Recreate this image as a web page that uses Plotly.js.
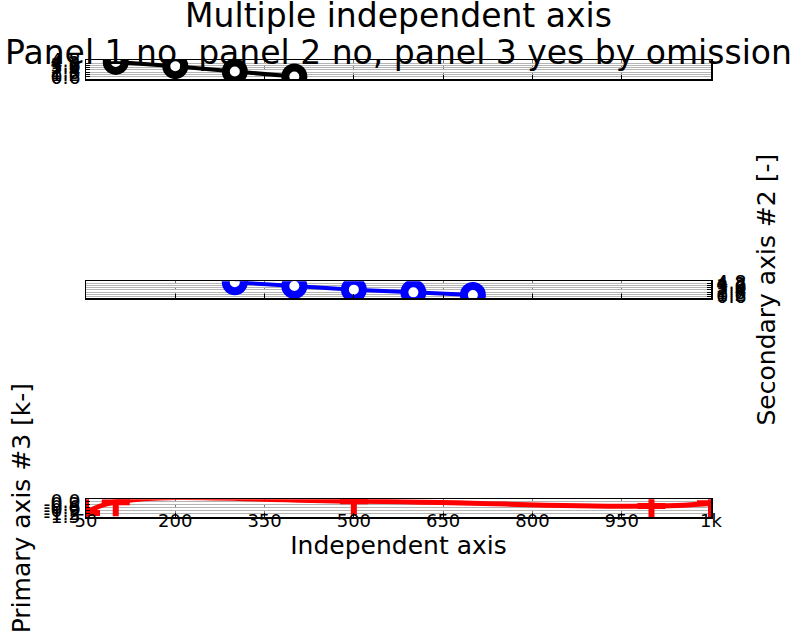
<!DOCTYPE html>
<html>
<head>
<meta charset="utf-8">
<script src="https://cdn.plot.ly/plotly-3.0.1.min.js"></script>
<style>html,body{margin:0;padding:0;background:#fff;}#chart{width:797px;height:634px;}</style>
</head>
<body>
<div id="chart"></div>
<script>
// Panel 1 (black)
var x1 = [100, 200, 300, 400];
var y1 = [4.5, 3.4, 2.0, 0.7];
// Panel 2 (blue)
var x2 = [300, 400, 500, 600, 700];
var y2 = [4.7, 3.6, 2.5, 1.7, 0.9];
// Panel 3 (red)
var x3 = [50, 100, 500, 1000, 1100];
var y3 = [-1.2, -0.1, 0.0, -0.5, -0.2];

var xTickVals = [50, 200, 350, 500, 650, 800, 950, 1100];
var xTickText = ['50', '200', '350', '500', '650', '800', '950', '1k'];
var yTicks1 = [0.6, 1.2, 1.8, 2.4, 3.0, 3.6, 4.2, 4.8];
var yTicks1Text = ['0.6', '1.2', '1.8', '2.4', '3.0', '3.6', '4.2', '4.8'];
var yTicks2 = [0.6, 1.2, 1.8, 2.4, 3.0, 3.6, 4.2, 4.8];
var yTicks2Text = ['0.6', '1.2', '1.8', '2.4', '3.0', '3.6', '4.2', '4.8'];
var yTicks3 = [-1.5, -1.2, -0.9, -0.6, -0.3, 0.0];
var yTicks3Text = ['-1.5', '-1.2', '-0.9', '-0.6', '-0.3', '0.0'];

var font = 'DejaVu Sans, sans-serif';

var traces = [
  {x: x1, y: y1, xaxis: 'x', yaxis: 'y', mode: 'lines+markers',
   line: {color: '#000', width: 4},
   marker: {symbol: 'circle', size: 18, color: '#fff', line: {color: '#000', width: 8}}},
  {x: x2, y: y2, xaxis: 'x2', yaxis: 'y2', mode: 'lines+markers',
   line: {color: '#0000ff', width: 4},
   marker: {symbol: 'circle', size: 18, color: '#fff', line: {color: '#0000ff', width: 8}}},
  {x: x3, y: y3, xaxis: 'x3', yaxis: 'y3', mode: 'lines+markers',
   line: {color: '#ff0000', width: 5, shape: 'spline', smoothing: 1.3},
   marker: {symbol: 'cross-thin', size: 20, color: '#ff0000', line: {color: '#ff0000', width: 6}}}
];

function xax(showLabels, anchor) {
  return {
    anchor: anchor, domain: [0, 1], range: [50, 1100],
    tickvals: xTickVals, ticktext: xTickText, showticklabels: showLabels,
    showline: true, mirror: true, linecolor: '#000', linewidth: 1.5,
    ticks: 'inside', ticklen: 4, tickcolor: '#000',
    showgrid: true, gridcolor: '#777', griddash: 'dot', gridwidth: 1,
    zeroline: false, ticklabelstandoff: -13,
    tickfont: {family: font, size: 18, color: '#000'}
  };
}
function yax(domain, range, tv, tt, side, anchor) {
  return {
    anchor: anchor, domain: domain, range: range, side: side,
    tickvals: tv, ticktext: tt,
    showline: true, mirror: true, linecolor: '#000', linewidth: 1.5,
    ticks: 'inside', ticklen: 4, tickcolor: '#000',
    showgrid: true, gridcolor: '#b4b4b4', gridwidth: 1,
    zeroline: false,
    tickfont: {family: font, size: 19, color: '#000'}
  };
}

var layout = {
  width: 797, height: 634,
  paper_bgcolor: '#fff', plot_bgcolor: '#fff',
  showlegend: false,
  margin: {l: 86, r: 86, t: 60, b: 117},
  font: {family: font, color: '#000'},
  title: {text: '<span style="font-size:33px">Multiple independent axis</span><br><span style="font-size:33px">Panel 1 no, panel 2 no, panel 3 yes by omission</span>',
          font: {family: font, size: 28.5, color: '#000'},
          x: 0.5, xanchor: 'center', y: 0.957, yanchor: 'top', yref: 'container'},
  xaxis: xax(false, 'y'),
  yaxis: yax([0.958, 1], [0, 5], yTicks1, yTicks1Text, 'left', 'x'),
  xaxis2: xax(false, 'y2'),
  yaxis2: Object.assign(yax([0.479, 0.516], [0, 5], yTicks2, yTicks2Text, 'right', 'x2'),
    {title: {text: 'Secondary axis #2 [-]', font: {family: font, size: 25, color: '#000'}, standoff: 12}}),
  xaxis3: Object.assign(xax(true, 'y3'),
    {title: {text: 'Independent axis', font: {family: font, size: 25, color: '#000'}, standoff: 4}}),
  yaxis3: Object.assign(yax([0, 0.039], [-1.6, 0.2], yTicks3, yTicks3Text, 'left', 'x3'),
    {title: {text: 'Primary axis #3 [k-]', font: {family: font, size: 25, color: '#000'}, standoff: 6}})
};

Plotly.newPlot('chart', traces, layout, {displayModeBar: false, staticPlot: true});
</script>
</body>
</html>
